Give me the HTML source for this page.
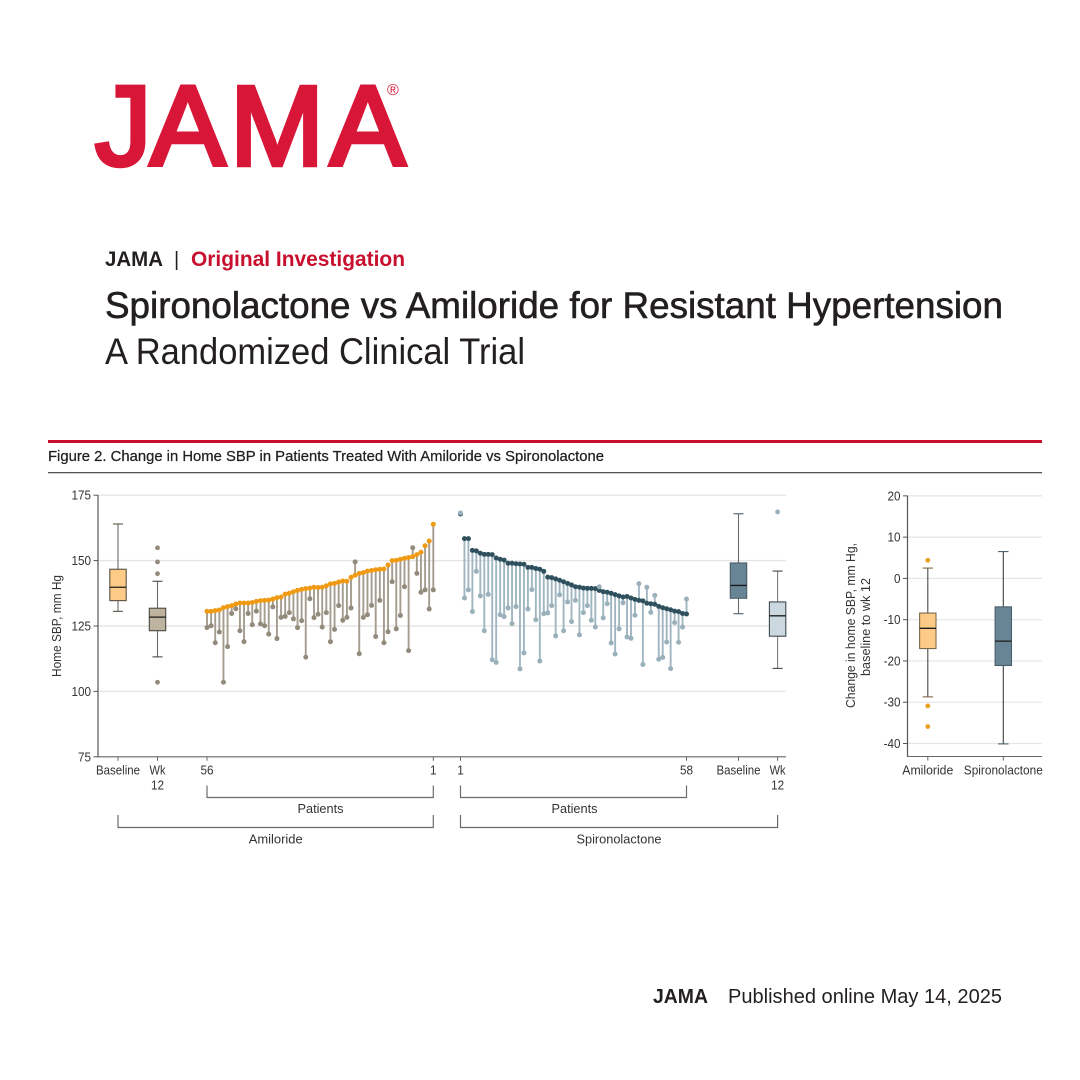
<!DOCTYPE html>
<html lang="en">
<head>
<meta charset="utf-8">
<title>Spironolactone vs Amiloride for Resistant Hypertension</title>
<style>
html,body{margin:0;padding:0;background:#fff;}
#stage{display:block;width:1080px;height:1080px;}
text{font-family:"Liberation Sans",sans-serif;}
</style>
</head>
<body>
<svg id="stage" xmlns="http://www.w3.org/2000/svg" width="1080" height="1080" viewBox="0 0 1080 1080">
  <rect width="1080" height="1080" fill="#fff"/>
  <text x="95 150 230 330" y="165" font-size="113" font-family="'Liberation Sans', sans-serif" font-weight="400" fill="#d81638" stroke="#d81638" stroke-width="4.5" stroke-linejoin="miter">JAMA</text>
  <text x="387" y="95" font-size="16" fill="#d81638">®</text>

  <text x="105" y="266" font-size="21" font-weight="700" fill="#231f20" textLength="58" lengthAdjust="spacingAndGlyphs">JAMA</text>
  <text x="174" y="266" font-size="20" fill="#231f20">|</text>
  <text x="191" y="266" font-size="21" font-weight="700" fill="#c8102e" textLength="214" lengthAdjust="spacingAndGlyphs">Original Investigation</text>
  <text x="105" y="318" font-size="37" fill="#231f20" stroke="#231f20" stroke-width="0.6" textLength="898" lengthAdjust="spacingAndGlyphs">Spironolactone vs Amiloride for Resistant Hypertension</text>
  <text x="105" y="364" font-size="37" fill="#231f20" textLength="420" lengthAdjust="spacingAndGlyphs">A Randomized Clinical Trial</text>

  <rect x="48" y="440" width="994" height="3" fill="#c8102e"/>
  <text x="48" y="461" font-size="15" fill="#231f20" stroke="#231f20" stroke-width="0.25" textLength="556" lengthAdjust="spacingAndGlyphs">Figure 2. Change in Home SBP in Patients Treated With Amiloride vs Spironolactone</text>
  <rect x="48" y="472" width="994" height="1.3" fill="#555"/>

  <g id="main-chart"></g>
  <g id="change-chart"></g>

  <text x="653" y="1003" font-size="20" font-weight="700" fill="#231f20" textLength="55" lengthAdjust="spacingAndGlyphs">JAMA</text>
  <text x="728" y="1003" font-size="20" fill="#231f20" textLength="274" lengthAdjust="spacingAndGlyphs">Published online May  14, 2025</text>
</svg>

<script>
/* Home SBP, mm Hg. Left-to-right plot order: amiloride patient 56 to 1, spironolactone patient 1 to 58. */
const amilorideBaseline = [130.6,130.6,130.9,131.1,132.0,132.4,132.8,133.4,133.8,133.8,133.8,134.0,134.4,134.7,134.8,134.9,135.3,135.8,136.1,137.2,137.5,138.1,138.6,139.0,139.3,139.5,139.8,139.7,139.8,140.4,141.1,141.3,141.8,142.2,142.1,143.6,144.4,145.1,145.4,146.0,146.2,146.5,146.7,146.8,148.3,150.0,150.1,150.5,150.9,151.2,151.5,152.3,153.2,155.7,157.5,163.9];
const amilorideWk12 = [124.4,125.1,118.6,122.7,103.5,117.1,129.8,131.6,123.2,119.0,129.8,125.5,130.7,125.8,125.1,121.9,132.3,120.2,128.3,128.7,130.1,127.7,124.4,127.0,113.1,135.4,128.2,129.5,124.6,130.1,119.0,123.7,132.8,127.2,128.3,131.9,149.5,114.4,128.3,129.3,132.9,121.0,134.8,118.6,122.8,141.9,123.9,129.0,140.0,115.6,154.9,145.1,137.9,138.8,131.5,138.8];
const spironolactoneBaseline = [167.8,158.4,158.4,153.9,153.7,152.8,152.4,152.4,152.3,151.0,150.5,150.2,149.0,149.0,148.8,148.7,148.6,147.4,147.4,147.0,146.7,145.9,143.7,143.5,143.0,142.5,141.9,141.3,140.7,140.0,139.8,139.5,139.4,139.4,139.3,138.6,138.1,137.9,137.5,137.0,136.5,136.1,136.3,135.7,135.2,134.8,134.6,133.7,133.5,133.3,132.5,132.0,131.6,131.2,130.7,130.5,129.8,129.6];
const spironolactoneWk12 = [168.2,135.7,138.8,130.5,145.9,136.5,123.2,137.1,112.1,111.1,129.3,128.6,131.9,125.9,132.4,108.6,114.7,131.5,138.9,127.4,111.6,129.7,130.0,132.8,121.2,136.9,123.2,134.2,126.7,134.8,121.6,130.1,132.8,127.2,124.6,140.0,128.1,133.5,118.5,114.3,123.9,133.9,120.8,120.3,129.1,141.2,110.3,139.8,130.2,136.7,112.3,113.0,118.9,108.7,126.3,118.8,124.6,135.3];

/* Box stats: whisker low, Q1, median, Q3, whisker high */
const amilorideBaselineBox = [130.6,134.7,139.8,146.7,164.0];
const amilorideWk12Box = [113.2,123.2,128.4,131.8,142.1];
const amilorideWk12Outliers = [154.9,149.5,145.0,103.5];
const spironolactoneBaselineBox = [129.7,135.6,140.5,149.1,167.9];
const spironolactoneWk12Box = [108.8,121.1,128.9,134.2,146.0];
const spironolactoneWk12Outliers = [168.6];

const homeSbpTicks = [175,150,125,100,75];
const changeTicks = [20,10,0,-10,-20,-30,-40];
const amilorideChangeBox = [-28.7,-17.0,-12.1,-8.4,2.5];
const amilorideChangeOutliers = [4.4,-30.9,-35.9];
const spironolactoneChangeBox = [-40.1,-21.1,-15.2,-6.9,6.5];

const NS = 'http://www.w3.org/2000/svg';

/* Axis functions */
function yHome(v){ return 626 + (125 - v) * 2.616; }
function yChange(v){ return 578.4 - v * 4.127; }
function xAmiloride(i){ return 207 + i * (226.3 / (amilorideBaseline.length - 1)); }
function xSpironolactone(i){ return 460.5 + i * (226 / (spironolactoneBaseline.length - 1)); }

function shape(parent, tag, name, attrs){
  const el = document.createElementNS(NS, tag);
  
  
  for (const k in attrs) el.setAttribute(k, attrs[k]);
  parent.appendChild(el);
  return el;
}
function line(parent, name, x1, y1, x2, y2, color, w){
  return shape(parent, 'line', name, {x1:x1, y1:y1, x2:x2, y2:y2, stroke:color, 'stroke-width':w});
}
function dot(parent, name, x, y, r, color){
  return shape(parent, 'circle', name, {cx:x, cy:y, r:r, fill:color});
}
function label(parent, name, x, y, str, anchor, width){
  const t = shape(parent, 'text', name, {x:x, y:y, 'font-size':13, fill:'#333', 'text-anchor':anchor || 'middle'});
  t.textContent = str;
  const target = width || t.getComputedTextLength() * 0.9;
  t.setAttribute('textLength', target);
  t.setAttribute('lengthAdjust', 'spacingAndGlyphs');
  return t;
}
function box(parent, name, cx, stats, scale, fill, stroke, whisker, capW, medianW){
  line(parent, name + '-whisker', cx, scale(stats[0]), cx, scale(stats[4]), whisker, 1.1);
  line(parent, name + '-cap-low', cx - capW, scale(stats[0]), cx + capW, scale(stats[0]), stroke, 1.1);
  line(parent, name + '-cap-high', cx - capW, scale(stats[4]), cx + capW, scale(stats[4]), stroke, 1.1);
  shape(parent, 'rect', name + '-box', {x:cx - 8.2, y:scale(stats[3]), width:16.4, height:scale(stats[1]) - scale(stats[3]), fill:fill, stroke:stroke, 'stroke-width':1.1});
  line(parent, name + '-median', cx - 8.2, scale(stats[2]), cx + 8.2, scale(stats[2]), '#1c1c1c', medianW);
}
function bracket(parent, name, x1, x2, top, bottom){
  shape(parent, 'path', name, {d:'M' + x1 + ' ' + top + 'V' + bottom + 'H' + x2 + 'V' + top, fill:'none', stroke:'#6b6b6b', 'stroke-width':1.2});
}

/* Main chart */
const main = document.getElementById('main-chart');
homeSbpTicks.forEach(function(t){
  if (t !== 75) line(main, 'y-gridline-' + t, 98, yHome(t), 786, yHome(t), '#e5e5e5', 1.4);
  line(main, 'y-tick-' + t, 93.5, yHome(t), 98, yHome(t), '#555', 1);
  label(main, 'y-tick-label-' + t, 91, yHome(t) + 4.5, String(t), 'end');
});
line(main, 'y-axis', 98, yHome(175), 98, yHome(75) + .6, '#555', 1.2);
line(main, 'x-axis', 98, yHome(75), 786, yHome(75), '#666', 1.1);

const lastAmiloride = amilorideBaseline.length - 1;
const lastSpironolactone = spironolactoneBaseline.length - 1;
const xBaseA = 118, xWkA = 157.5, xBaseS = 738.5, xWkS = 777.6;
[[xBaseA,'baseline-amiloride'],[xWkA,'wk12-amiloride'],[xAmiloride(0),'patient-56'],[xAmiloride(lastAmiloride),'patient-1-amiloride'],
 [xSpironolactone(0),'patient-1-spironolactone'],[xSpironolactone(lastSpironolactone),'patient-58'],[xBaseS,'baseline-spironolactone'],[xWkS,'wk12-spironolactone']
].forEach(function(p){ line(main, 'x-tick-' + p[1], p[0], yHome(75), p[0], yHome(75) + 4, '#666', 1); });

label(main, 'x-label-baseline-amiloride', xBaseA, 774.5, 'Baseline', 'middle', 44);
label(main, 'x-label-wk-amiloride', xWkA, 774.5, 'Wk', 'middle', 16);
label(main, 'x-label-12-amiloride', xWkA, 789.5, '12', 'middle', 13);
label(main, 'x-label-patient-56', xAmiloride(0), 774.5, '56', 'middle', 13);
label(main, 'x-label-patient-1-amiloride', xAmiloride(lastAmiloride), 774.5, '1', 'middle');
label(main, 'x-label-patient-1-spironolactone', xSpironolactone(0), 774.5, '1', 'middle');
label(main, 'x-label-patient-58', xSpironolactone(lastSpironolactone), 774.5, '58', 'middle', 13);
label(main, 'x-label-baseline-spironolactone', xBaseS, 774.5, 'Baseline', 'middle', 44);
label(main, 'x-label-wk-spironolactone', xWkS, 774.5, 'Wk', 'middle', 16);
label(main, 'x-label-12-spironolactone', xWkS, 789.5, '12', 'middle', 13);

bracket(main, 'patients-bracket-amiloride', xAmiloride(0), xAmiloride(lastAmiloride), 785.5, 797.5);
bracket(main, 'amiloride-bracket', xBaseA, xAmiloride(lastAmiloride), 815, 827.5);
bracket(main, 'patients-bracket-spironolactone', xSpironolactone(0), xSpironolactone(lastSpironolactone), 785.5, 797.5);
bracket(main, 'spironolactone-bracket', xSpironolactone(0), xWkS, 815, 827.5);
label(main, 'patients-label-amiloride', 320.5, 813, 'Patients', 'middle', 46);
label(main, 'amiloride-label', 275.7, 843.5, 'Amiloride', 'middle', 54);
label(main, 'patients-label-spironolactone', 574.5, 813, 'Patients', 'middle', 46);
label(main, 'spironolactone-label', 619, 843.5, 'Spironolactone', 'middle', 85);

const yTitle = label(main, 'y-axis-title', 0, 0, 'Home SBP, mm Hg', 'middle', 102);
yTitle.setAttribute('transform', 'translate(61 626) rotate(-90)');

amilorideBaseline.forEach(function(v, i){
  line(main, 'amiloride-stem', xAmiloride(i), yHome(v), xAmiloride(i), yHome(amilorideWk12[i]), '#a49c8e', 1.9);
});
spironolactoneBaseline.forEach(function(v, i){
  line(main, 'spironolactone-stem', xSpironolactone(i), yHome(v), xSpironolactone(i), yHome(spironolactoneWk12[i]), '#a0b6c0', 1.9);
});
amilorideWk12.forEach(function(v, i){
  dot(main, 'amiloride-wk12-point', xAmiloride(i), yHome(v), 2.5, '#928a7b');
});
amilorideBaseline.forEach(function(v, i){
  dot(main, 'amiloride-baseline-point', xAmiloride(i), yHome(v), 2.5, '#ef9a12');
});
spironolactoneBaseline.forEach(function(v, i){
  dot(main, 'spironolactone-baseline-point', xSpironolactone(i), yHome(v), 2.5, '#2f515e');
});
spironolactoneWk12.forEach(function(v, i){
  dot(main, 'spironolactone-wk12-point', xSpironolactone(i), yHome(v), 2.5, '#9ab1bc');
});

box(main, 'amiloride-baseline', xBaseA, amilorideBaselineBox, yHome, '#fdcb85', '#5b5246', '#6b6b6b', 5, 1.3);
box(main, 'amiloride-wk12', xWkA, amilorideWk12Box, yHome, '#bdb39e', '#4c4a42', '#6b6b6b', 5, 1.3);
amilorideWk12Outliers.forEach(function(v){
  dot(main, 'amiloride-wk12-outlier', xWkA, yHome(v), 2.4, '#928a7b');
});
box(main, 'spironolactone-baseline', xBaseS, spironolactoneBaselineBox, yHome, '#688596', '#4c5f69', '#6b6b6b', 5, 1.3);
box(main, 'spironolactone-wk12', xWkS, spironolactoneWk12Box, yHome, '#cbd8df', '#3e4a50', '#7d7d7d', 5, 1.3);
spironolactoneWk12Outliers.forEach(function(v){
  dot(main, 'spironolactone-wk12-outlier', xWkS, yHome(v), 2.4, '#9ab1bc');
});

/* Change chart */
const change = document.getElementById('change-chart');
const xA = 927.8, xS = 1003.3;
changeTicks.forEach(function(t){
  line(change, 'change-gridline-' + t, 907.5, yChange(t), 1042, yChange(t), '#e2e6ea', 1.2);
  line(change, 'change-tick-' + t, 903, yChange(t), 907.5, yChange(t), '#555', 1);
  label(change, 'change-tick-label-' + t, 900.5, yChange(t) + 4.5, String(t), 'end');
});
line(change, 'change-y-axis', 907.5, 495.7, 907.5, 757, '#555', 1.2);
line(change, 'change-x-axis', 907, 756.5, 1042, 756.5, '#666', 1.1);
line(change, 'change-x-tick-amiloride', xA, 756.5, xA, 760.5, '#666', 1);
line(change, 'change-x-tick-spironolactone', xS, 756.5, xS, 760.5, '#666', 1);
label(change, 'change-x-label-amiloride', xA, 774.5, 'Amiloride', 'middle', 51);
label(change, 'change-x-label-spironolactone', xS, 774.5, 'Spironolactone', 'middle', 79);
const changeTitle1 = label(change, 'change-y-title-line-1', 0, 0, 'Change in home SBP, mm Hg,', 'middle', 165);
changeTitle1.setAttribute('transform', 'translate(855 625.5) rotate(-90)');
const changeTitle2 = label(change, 'change-y-title-line-2', 0, 0, 'baseline to wk 12', 'middle', 98);
changeTitle2.setAttribute('transform', 'translate(870 627) rotate(-90)');

box(change, 'amiloride-change', xA, amilorideChangeBox, yChange, '#fdcb85', '#7d6a4b', '#4a4a4a', 5.2, 1.3);
amilorideChangeOutliers.forEach(function(v){
  dot(change, 'amiloride-change-outlier', xA, yChange(v), 2.4, '#e8a020');
});
box(change, 'spironolactone-change', xS, spironolactoneChangeBox, yChange, '#688596', '#4c5f69', '#3f3f3f', 5.2, 1.3);
</script>
</body>
</html>
